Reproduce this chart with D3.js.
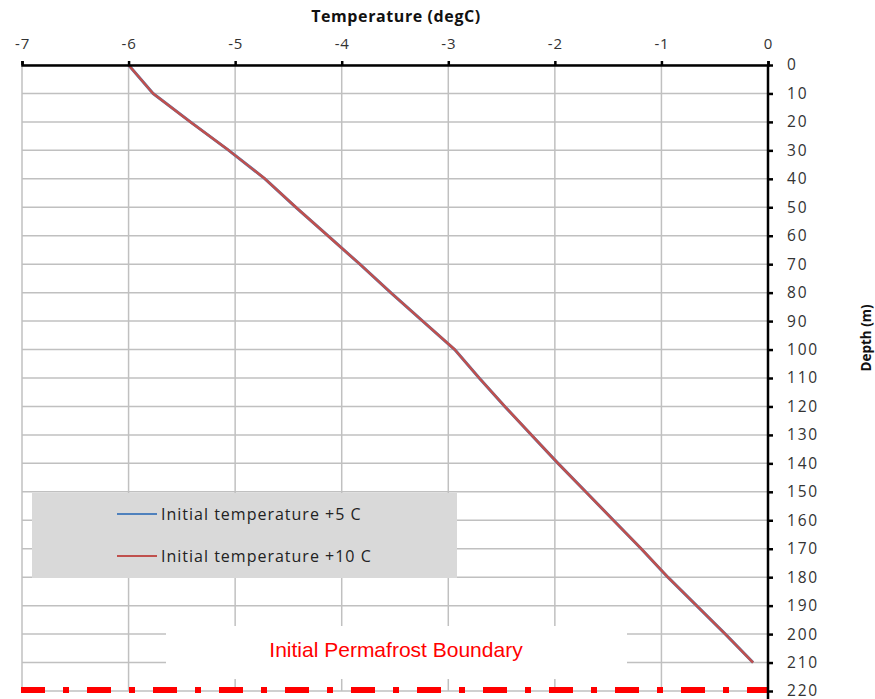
<!DOCTYPE html>
<html>
<head>
<meta charset="utf-8">
<script src="https://cdn.jsdelivr.net/npm/d3@7"></script>
<style>
  html, body { margin: 0; padding: 0; background: #fff; }
  svg { display: block; }
</style>
</head>
<body>
<svg id="chart" width="875" height="699"></svg>
<script>
// Depth profile (m) and temperatures (degC) for the two initial conditions
const depths = [0, 10, 20, 30, 40, 50, 60, 70, 80, 90, 100, 110, 120, 130, 140, 150, 160, 170, 180, 190, 200, 210];
const tempPlus5 = [-6.0, -5.77, -5.42, -5.06, -4.72, -4.43, -4.13, -3.83, -3.54, -3.24, -2.94, -2.71, -2.47, -2.22, -1.97, -1.71, -1.45, -1.19, -0.94, -0.67, -0.40, -0.14];
const tempPlus10 = [-6.0, -5.77, -5.42, -5.06, -4.72, -4.43, -4.13, -3.83, -3.54, -3.24, -2.94, -2.71, -2.47, -2.22, -1.97, -1.71, -1.45, -1.19, -0.94, -0.67, -0.40, -0.14];
const seriesNames = ["Initial temperature +5 C", "Initial temperature +10 C"];
const seriesColors = ["#4f81bd", "#c0504d"];
const tempTicks = [-7, -6, -5, -4, -3, -2, -1, 0];
const depthTicks = d3.range(0, 221, 10);
const boundaryDepth = 220;
const boundaryLabel = "Initial Permafrost Boundary";

const svg = d3.select("#chart");
const x = d3.scaleLinear().domain([-7, 0]).range([22, 768]);
const y = d3.scaleLinear().domain([0, 220]).range([65, 691]);

const labelFont = "'Open Sans', Lato, sans-serif";

// Gridlines
const grid = svg.append("g").attr("stroke", "#c0c0c0").attr("stroke-width", 1.5);
grid.selectAll("line.h").data(depthTicks).join("line").attr("class", "h")
  .attr("x1", x(-7)).attr("x2", x(0)).attr("y1", d => y(d)).attr("y2", d => y(d));
grid.selectAll("line.v").data(tempTicks).join("line").attr("class", "v")
  .attr("x1", d => x(d)).attr("x2", d => x(d)).attr("y1", y(0)).attr("y2", y(220));

// Label panel for the boundary annotation (hides the grid behind it)
svg.append("rect").attr("x", 166).attr("y", 626).attr("width", 461).attr("height", 53).attr("fill", "#fff");
svg.append("text").attr("x", 396).attr("y", 657)
  .attr("text-anchor", "middle").attr("fill", "#ff0000")
  .attr("font-family", "'Liberation Sans', Arial, sans-serif").attr("font-size", 21)
  .text(boundaryLabel);

// Permafrost boundary dash-dot line
svg.append("line")
  .attr("x1", x(-7) - 1).attr("x2", x(0)).attr("y1", y(boundaryDepth) - 1).attr("y2", y(boundaryDepth) - 1)
  .attr("stroke", "#ff0000").attr("stroke-width", 6).attr("stroke-dasharray", "24,18,6,18");

// Legend panel
const legend = svg.append("g");
legend.append("rect").attr("x", 32).attr("y", 493).attr("width", 425).attr("height", 85).attr("fill", "#d9d9d9");
const legendY = [514, 556];
seriesNames.forEach((name, i) => {
  legend.append("line").attr("x1", 117).attr("x2", 157).attr("y1", legendY[i]).attr("y2", legendY[i])
    .attr("stroke", seriesColors[i]).attr("stroke-width", 2);
  legend.append("text").attr("x", 161).attr("y", legendY[i] + 6)
    .attr("font-family", labelFont).attr("font-size", 16).attr("letter-spacing", 1.0).attr("fill", "#222")
    .text(name);
});

// Temperature profiles
const line = d3.line().x(d => x(d[0])).y(d => y(d[1]));
[tempPlus5, tempPlus10].forEach((temps, i) => {
  svg.append("path")
    .datum(temps.map((t, k) => [t, depths[k]]))
    .attr("d", line).attr("fill", "none")
    .attr("stroke", seriesColors[i]).attr("stroke-width", i === 0 ? 3 : 2.5)
    .attr("stroke-linejoin", "round");
});

// Top temperature axis
const xAxis = svg.append("g").attr("transform", `translate(0,${y(0)})`)
  .call(d3.axisTop(x).tickValues(tempTicks).tickSize(4).tickPadding(12).tickFormat(d3.format("d")));
xAxis.select(".domain").attr("stroke", "#000").attr("stroke-width", 2.5);
xAxis.selectAll(".tick line").attr("stroke", "#000").attr("stroke-width", 2.5);
xAxis.selectAll(".tick text").attr("font-family", labelFont).attr("font-size", 15).attr("letter-spacing", 0.8).attr("fill", "#333")
  .text(d => d < 0 ? "-" + Math.abs(d) : d);

// Right depth axis
const yAxis = svg.append("g").attr("transform", `translate(${x(0)},0)`)
  .call(d3.axisRight(y).tickValues(depthTicks).tickSize(5).tickPadding(14).tickFormat(d3.format("d")));
yAxis.select(".domain").attr("stroke", "#000").attr("stroke-width", 2.5).attr("d", `M0,${y(0)}V699`);
yAxis.selectAll(".tick line").attr("stroke", "#000").attr("stroke-width", 2.5);
yAxis.selectAll(".tick text").attr("font-family", labelFont).attr("font-size", 15.5).attr("letter-spacing", 1.8).attr("fill", "#333");

// Axis titles
svg.append("text").attr("x", 396).attr("y", 22).attr("text-anchor", "middle")
  .attr("font-family", labelFont).attr("font-weight", "bold").attr("font-size", 16).attr("letter-spacing", 0.6).attr("fill", "#111")
  .text("Temperature (degC)");
svg.append("text").attr("transform", "translate(871,338) rotate(-90)").attr("text-anchor", "middle")
  .attr("font-family", labelFont).attr("font-weight", "bold").attr("font-size", 13.5).attr("fill", "#111")
  .text("Depth (m)");
</script>
</body>
</html>
